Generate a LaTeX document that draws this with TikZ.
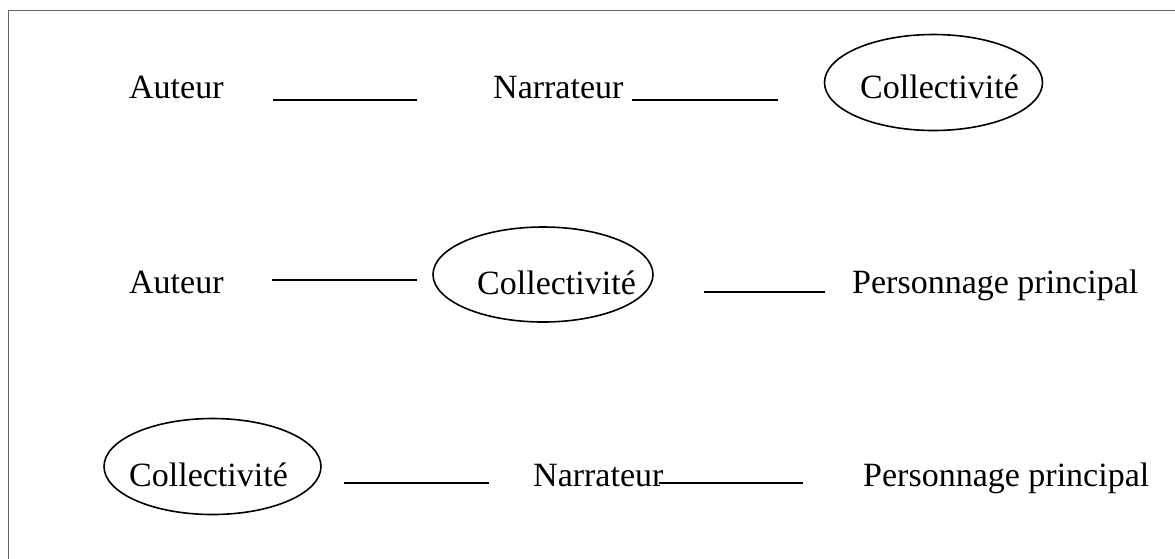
\documentclass[tikz,border=0pt]{standalone}
\usepackage{fontspec}
\setmainfont{Liberation Serif}
\usetikzlibrary{shapes.geometric}
\begin{document}
\begin{tikzpicture}[x=1pt,y=-1pt,
  lbl/.style={anchor=base west,inner sep=0pt,font=\fontsize{34}{40}\selectfont},
  oval/.style={draw,ellipse,line width=1.6pt,inner sep=0pt},
  blank/.style={line width=1.8pt},
  frameline/.style={draw=black!60,line width=1.6pt}]
\useasboundingbox (0,0) rectangle (1175,558);
% frame
\coordinate (fb) at (8.5,560);
\coordinate (fc) at (8.5,10.5);
\coordinate (fr) at (1177,10.5);
\draw[frameline] (fb) -- (fc) -- (fr);
% row 1
\node[lbl] (a1) at (129,98) {Auteur};
\coordinate (l1a) at (273,100);
\coordinate (l1b) at (417,100);
\draw[blank] (l1a) -- (l1b);
\node[lbl] (n1) at (493,98) {Narrateur};
\coordinate (l2a) at (632,100);
\coordinate (l2b) at (778,100);
\draw[blank] (l2a) -- (l2b);
\node[oval,minimum width=218pt,minimum height=96pt] (e1) at (933.5,82.5) {};
\node[lbl] (c1) at (860,98) {Collectivité};
% row 2
\node[lbl] (a2) at (129,293) {Auteur};
\coordinate (l3a) at (272,280);
\coordinate (l3b) at (417,280);
\draw[blank] (l3a) -- (l3b);
\node[oval,minimum width=220pt,minimum height=95pt] (e2) at (543,274.5) {};
\node[lbl] (c2) at (477,294) {Collectivité};
\coordinate (l4a) at (704,292);
\coordinate (l4b) at (825,292);
\draw[blank] (l4a) -- (l4b);
\node[lbl] (p2) at (852,293) {Personnage principal};
% row 3
\node[oval,minimum width=217pt,minimum height=96pt] (e3) at (212.5,466.5) {};
\node[lbl] (c3) at (129,486) {Collectivité};
\coordinate (l5a) at (344,483);
\coordinate (l5b) at (489,483);
\draw[blank] (l5a) -- (l5b);
\node[lbl] (n3) at (533,486) {Narrateur};
\coordinate (l6a) at (659,483);
\coordinate (l6b) at (803,483);
\draw[blank] (l6a) -- (l6b);
\node[lbl] (p3) at (863,486) {Personnage principal};
\end{tikzpicture}
\end{document}
